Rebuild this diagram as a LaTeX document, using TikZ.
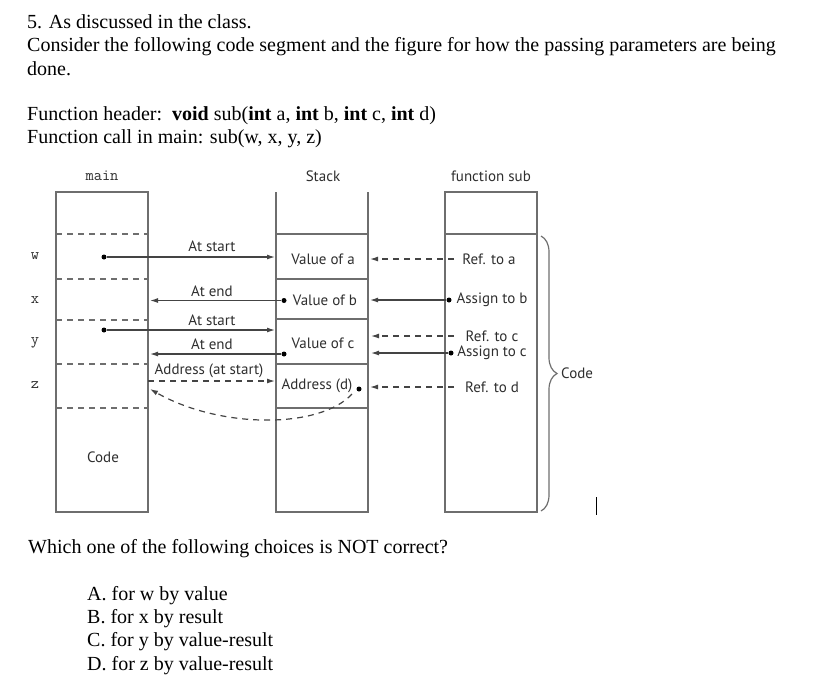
\documentclass[tikz,border=0pt]{standalone}
\usepackage{fontspec}
\setmainfont{Liberation Serif}
\newfontfamily\diagsans{PT Sans}
\newfontfamily\diagmono{Latin Modern Mono}
\usetikzlibrary{arrows.meta,decorations.pathreplacing}
\definecolor{linegray}{HTML}{6e6e6e}
\definecolor{arrgray}{HTML}{444444}
\definecolor{textgray}{HTML}{2e2e2e}
\begin{document}
\begin{tikzpicture}[x=1pt,y=-1pt,
  qtext/.style={anchor=base west,inner sep=0pt,font=\fontsize{20}{23}\selectfont},
  lbl/.style={inner sep=0pt,text=textgray,font=\diagsans\fontsize{15}{17}\selectfont},
  mlbl/.style={inner sep=0pt,text=textgray,font=\diagmono\fontsize{16}{18}\selectfont},
  boxline/.style={draw=linegray,line width=1.3pt},
  sepline/.style={draw=linegray,line width=1.2pt,dash pattern=on 6pt off 5pt},
  arr/.style={draw=arrgray,line width=1.2pt,-{Latex[length=8pt,width=5pt]}},
  darr/.style={arr,dash pattern=on 6pt off 5pt},
  pdot/.style={circle,fill=black,inner sep=0pt,minimum size=5pt},
]
\useasboundingbox (0,0) rectangle (819,697);

% question text
\node[qtext] (t1) at (27,28.3) {5. As discussed in the class.};
\node[qtext] (t2) at (27,51.6) {Consider the following code segment and the figure for how the passing parameters are being};
\node[qtext] (t3) at (27,75) {done.};
\node[qtext] (t4) at (27,120) {Function header:\ \ \textbf{void} sub(\textbf{int} a, \textbf{int} b, \textbf{int} c, \textbf{int} d)};
\node[qtext] (t5) at (27,143.3) {Function call in main: sub(w, x, y, z)};
\node[qtext] (t6) at (28,553.3) {Which one of the following choices is NOT correct?};
\node[qtext] (oa) at (87,600) {A. for w by value};
\node[qtext] (ob) at (87,623.3) {B. for x by result};
\node[qtext] (oc) at (87,646.7) {C. for y by value-result};
\node[qtext] (od) at (87,670) {D. for z by value-result};

% headings
\node[mlbl] (hmain) at (102,176) {main};
\node[lbl] (hstack) at (323,176) {Stack};
\node[lbl] (hsub) at (491,176) {function sub};

% row labels
\node[mlbl] (lw) at (35,256) {w};
\node[mlbl] (lx) at (35,300) {x};
\node[mlbl] (ly) at (35,343) {y};
\node[mlbl] (lz) at (35,385) {z};

% main box
\draw[boxline] (56,192) rectangle (148,512);
\foreach \yy in {234,279,320,364,408}
  \draw[sepline] (56,\yy) -- (148,\yy);
\node[lbl] (mcode) at (103,457) {Code};

% stack
\draw[boxline] (276,192) -- (276,512) -- (368,512) -- (368,192);
\foreach \yy in {234,279,319,364,408}
  \draw[boxline] (276,\yy) -- (368,\yy);

% function sub
\draw[boxline] (445,192) rectangle (537,512);
\draw[boxline] (445,234) -- (537,234);

% stack texts
\node[lbl] (sa) at (323,259) {Value of a};
\node[lbl] (sb) at (325,300) {Value of b};
\node[lbl] (sc) at (323,343) {Value of c};
\node[lbl] (sd) at (317,386) {Address (d)};

% sub texts
\node[lbl] (ra) at (489,259) {Ref. to a};
\node[lbl] (ab) at (492,300) {Assign to b};
\node[lbl] (rc) at (492,336) {Ref. to c};
\node[lbl] (ac) at (492,353) {Assign to c};
\node[lbl] (rd) at (492,387) {Ref. to d};

% arrow labels
\node[lbl] (l1) at (212,246) {At start};
\node[lbl] (l2) at (212,291) {At end};
\node[lbl] (l3) at (212,320) {At start};
\node[lbl] (l4) at (212,344) {At end};
\node[lbl] (l5) at (209,371) {Address (at start)};

% dots
\node[pdot] (dw) at (104,257) {};
\node[pdot] (dy) at (104,330) {};
\node[pdot] (db) at (284,300.5) {};
\node[pdot] (dc) at (284,354) {};
\node[pdot] (dd) at (359,389) {};
\node[pdot] (dab) at (449,300) {};
\node[pdot] (dac) at (451,353) {};

% target coordinates
\coordinate (tw) at (275,257);
\coordinate (tx) at (150,300.5);
\coordinate (ty) at (275,330);
\coordinate (tyb) at (150,354);
\coordinate (zs) at (148,381);
\coordinate (zt) at (275,381);
\coordinate (cs) at (352,394);
\coordinate (ct) at (150,389);
\coordinate (ras) at (454,259);
\coordinate (rat) at (370,259);
\coordinate (abt) at (370,300);
\coordinate (rcs) at (454,336);
\coordinate (rct) at (371,336);
\coordinate (act) at (371,353);
\coordinate (rds) at (454,387);
\coordinate (rdt) at (370,387);

% arrows
\draw[arr] (dw) -- (tw);
\draw[arr] (db) -- (tx);
\draw[arr] (dy) -- (ty);
\draw[arr] (dc) -- (tyb);
\draw[darr] (zs) -- (zt);
\draw[darr] (cs) .. controls (320,429) and (220,429) .. (ct);
\draw[darr] (ras) -- (rat);
\draw[arr] (dab) -- (abt);
\draw[darr] (rcs) -- (rct);
\draw[arr] (dac) -- (act);
\draw[darr] (rds) -- (rdt);

% brace
\draw[draw=linegray,line width=1.2pt,decorate,decoration={brace,amplitude=16pt,aspect=0.5}] (541,236) -- (541,511);
\node[lbl,anchor=west] (bcode) at (561,373) {Code};

% cursor mark
\draw[black,line width=1pt] (596,497) -- (596,515);
\end{tikzpicture}
\end{document}
